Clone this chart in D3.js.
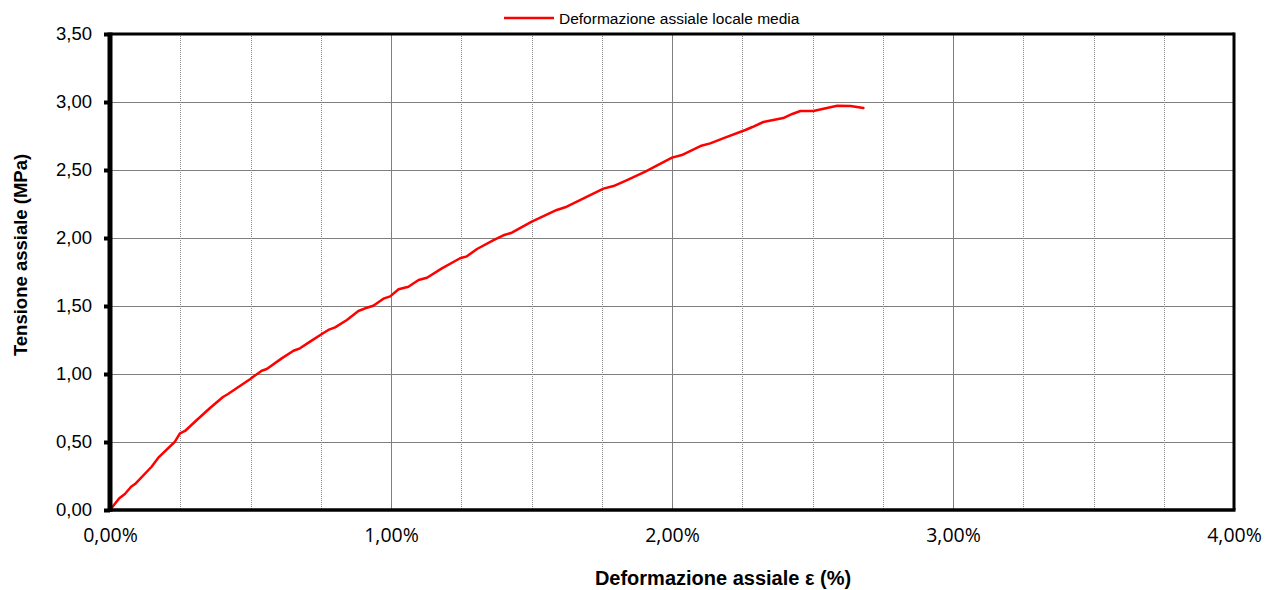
<!DOCTYPE html>
<html>
<head>
<meta charset="utf-8">
<script src="https://cdn.jsdelivr.net/npm/d3@7"></script>
<style>
  html, body { margin: 0; padding: 0; background: #fff; }
  svg { display: block; }
</style>
</head>
<body>
<svg id="chart" width="1273" height="590"></svg>
<script>
// ---- data ----
const strainPct = [0, 0.033, 0.053, 0.075, 0.089, 0.148, 0.172, 0.231, 0.249, 0.267, 0.309, 0.356, 0.402, 0.420,
  0.498, 0.540, 0.558, 0.611, 0.653, 0.676, 0.712, 0.754, 0.777, 0.801, 0.843, 0.884, 0.908, 0.937, 0.973, 0.997,
  1.027, 1.062, 1.098, 1.128, 1.181, 1.246, 1.270, 1.306, 1.365, 1.400, 1.430, 1.501, 1.590, 1.620, 1.756, 1.792,
  1.840, 1.905, 2.000, 2.035, 2.101, 2.136, 2.184, 2.261, 2.286, 2.325, 2.396, 2.428, 2.457, 2.503, 2.588, 2.635, 2.681];
const stressMPa = [0, 0.086, 0.118, 0.171, 0.191, 0.318, 0.385, 0.502, 0.564, 0.581, 0.662, 0.750, 0.831, 0.853,
  0.962, 1.024, 1.037, 1.115, 1.171, 1.189, 1.238, 1.294, 1.324, 1.343, 1.397, 1.463, 1.483, 1.502, 1.554, 1.571,
  1.623, 1.642, 1.691, 1.708, 1.777, 1.851, 1.865, 1.919, 1.985, 2.020, 2.039, 2.120, 2.206, 2.226, 2.363, 2.382,
  2.426, 2.488, 2.591, 2.610, 2.676, 2.696, 2.735, 2.794, 2.816, 2.853, 2.882, 2.912, 2.934, 2.934, 2.973, 2.971, 2.956];
const xTicks = [0, 1, 2, 3, 4];
const xMinorGrid = [0.25, 0.5, 0.75, 1.25, 1.5, 1.75, 2.25, 2.5, 2.75, 3.25, 3.5, 3.75];
const yTicks = [0, 0.5, 1, 1.5, 2, 2.5, 3, 3.5];
const seriesName = "Deformazione assiale locale media";
const xTitle = "Deformazione assiale ε (%)";
const yTitle = "Tensione assiale (MPa)";

// ---- layout ----
const L = 110, R = 1234, T = 34, B = 510;
const svg = d3.select("#chart");
const x = d3.scaleLinear().domain([0, 4]).range([L, R]);
const y = d3.scaleLinear().domain([0, 3.5]).range([B, T]);
const comma = f => s => d3.format(f)(s).replace(".", ",");

// horizontal grid
svg.append("g").selectAll("line").data(yTicks.slice(1, -1)).join("line")
  .attr("x1", L).attr("x2", R).attr("y1", d => y(d)).attr("y2", d => y(d))
  .attr("stroke", "#7f7f7f").attr("stroke-width", 1).attr("shape-rendering", "crispEdges");
// vertical minor (dotted)
svg.append("g").selectAll("line").data(xMinorGrid).join("line")
  .attr("x1", d => Math.round(x(d)) + 0.5).attr("x2", d => Math.round(x(d)) + 0.5).attr("y1", T).attr("y2", B)
  .attr("stroke", "#888").attr("stroke-width", 1).attr("stroke-dasharray", "1,1");
// vertical major
svg.append("g").selectAll("line").data(xTicks.slice(1, -1)).join("line")
  .attr("x1", d => Math.round(x(d)) + 0.5).attr("x2", d => Math.round(x(d)) + 0.5).attr("y1", T).attr("y2", B)
  .attr("stroke", "#7f7f7f").attr("stroke-width", 1);

// series line
const pts = strainPct.map((d, i) => [d, stressMPa[i]]);
svg.append("path").datum(pts)
  .attr("fill", "none").attr("stroke", "#ff0000").attr("stroke-width", 2.5)
  .attr("stroke-linejoin", "round").attr("stroke-linecap", "round")
  .attr("d", d3.line().x(d => x(d[0])).y(d => y(d[1])));

// frame (top & right)
svg.append("line").attr("x1", L).attr("x2", R).attr("y1", T).attr("y2", T).attr("stroke", "#000").attr("stroke-width", 3);
svg.append("line").attr("x1", R).attr("x2", R).attr("y1", T - 1.5).attr("y2", B).attr("stroke", "#000").attr("stroke-width", 3);

// y axis
const yAxis = svg.append("g").attr("transform", `translate(${L},0)`)
  .call(d3.axisLeft(y).tickValues(yTicks).tickFormat(comma(".2f")).tickSize(6).tickPadding(12));
yAxis.select(".domain").remove();
yAxis.selectAll(".tick line").attr("stroke", "#000").attr("stroke-width", 4);
yAxis.selectAll(".tick text").attr("font-family", "'Liberation Sans', Arial, sans-serif")
  .attr("font-size", "18.5px").attr("fill", "#000");

// x axis
const xAxis = svg.append("g").attr("transform", `translate(0,${B})`)
  .call(d3.axisBottom(x).tickValues(xTicks).tickFormat(d => comma(".2f")(d) + "%").tickSize(0));
xAxis.select(".domain").remove();
xAxis.selectAll(".tick text").attr("y", 32).attr("dy", 0)
  .attr("font-family", "'Open Sans', sans-serif").attr("font-size", "19.5px").attr("fill", "#000");

// axis lines
svg.append("line").attr("x1", L - 2.5).attr("x2", R + 1.5).attr("y1", B).attr("y2", B).attr("stroke", "#000").attr("stroke-width", 3.5);
svg.append("line").attr("x1", L).attr("x2", L).attr("y1", T - 1.5).attr("y2", B + 1.75).attr("stroke", "#000").attr("stroke-width", 5);

// titles
svg.append("text").attr("x", 723).attr("y", 585).attr("text-anchor", "middle")
  .attr("font-family", "'Liberation Sans', Arial, sans-serif").attr("font-weight", "bold").attr("font-size", "20px")
  .text(xTitle);
svg.append("text").attr("transform", "translate(27,255) rotate(-90)").attr("text-anchor", "middle")
  .attr("font-family", "'Liberation Sans', Arial, sans-serif").attr("font-weight", "bold").attr("font-size", "18.5px")
  .text(yTitle);

// legend
svg.append("line").attr("x1", 504).attr("x2", 554).attr("y1", 18).attr("y2", 18).attr("stroke", "#ff0000").attr("stroke-width", 2.5);
svg.append("text").attr("x", 559).attr("y", 23.5)
  .attr("font-family", "'Liberation Sans', Arial, sans-serif").attr("font-size", "15.5px").text(seriesName);
</script>
</body>
</html>
